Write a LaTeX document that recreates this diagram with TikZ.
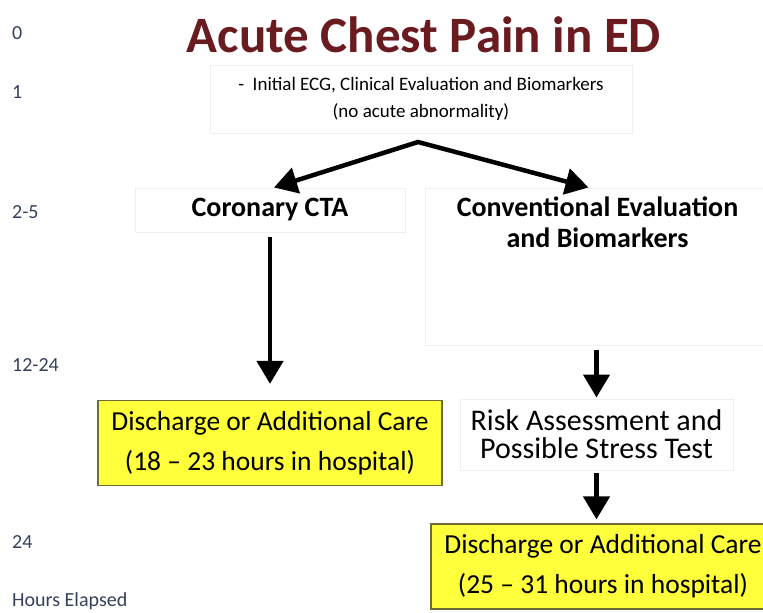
\documentclass[tikz,border=0pt]{standalone}
\usepackage{fontspec}
\setmainfont{Carlito}
\usepackage{xcolor}
\definecolor{TitleMaroon}{HTML}{6A1B1F}
\definecolor{TimeSlate}{HTML}{34405C}
\definecolor{CareYellow}{HTML}{FFFF3C}
\definecolor{CareEdge}{HTML}{6E6B3A}
\definecolor{FaintEdge}{HTML}{EFEFEF}
\usetikzlibrary{arrows.meta,positioning}

\begin{document}
\begin{tikzpicture}[
  x=1pt,y=-1pt,
  stepbox/.style={
    draw=FaintEdge,line width=1pt,
    align=center,inner sep=0pt,text=black
  },
  carebox/.style={
    draw=CareEdge,line width=1.2pt,fill=CareYellow,
    minimum width=344,minimum height=85,
    align=center,inner sep=0pt,
    font=\fontsize{27.5}{40}\selectfont
  },
  hourlbl/.style={anchor=west,inner sep=0pt,text=TimeSlate,font=\fontsize{20}{22}\selectfont},
  arr/.style={-{Triangle[width=26pt,length=23pt]},line width=4.5pt},
  forkarr/.style={{Triangle[width=26pt,length=23pt]}-{Triangle[width=26pt,length=23pt]},line width=4.5pt,line join=miter}
]
  \useasboundingbox (0,0) rectangle (763,613);

  % hours elapsed, down the left side
  \node[hourlbl] (h0)   at (12,33)  {0};
  \node[hourlbl] (h1)   at (12,92)  {1};
  \node[hourlbl] (h25)  at (12,212) {2-5};
  \node[hourlbl] (h1224) at (12,365) {12-24};
  \node[hourlbl] (h24)  at (12,542) {24};
  \node[hourlbl] (hlbl) at (12,601) {Hours Elapsed};

  \node (title) at (424,35) [text=TitleMaroon,font=\bfseries\fontsize{51}{54}\selectfont] {Acute Chest Pain in ED};

  \node[stepbox,minimum width=422,minimum height=68,font=\fontsize{19}{27}\selectfont]
    (init) at (421,99) {-\ \ Initial ECG, Clinical Evaluation and Biomarkers\\(no acute abnormality)};

  \node[stepbox,minimum width=270,minimum height=44,font=\bfseries\fontsize{28}{31}\selectfont]
    (cta) at (270,210) {Coronary CTA};
  \node[stepbox,minimum width=345,minimum height=157]
    (conv) at (597.5,266.5) {};
  \node[align=center,inner sep=0pt,font=\bfseries\fontsize{28}{31}\selectfont]
    (convtxt) [below=9pt of conv.north] {Conventional Evaluation\\and Biomarkers};

  \node[carebox] (cta_out) at (270,443) {Discharge or Additional Care\\(18 -- 23 hours in hospital)};
  \node[stepbox,minimum width=273,minimum height=71,font=\fontsize{30}{28}\selectfont]
    (risk) at (596.5,434.5) {Risk Assessment and\\Possible Stress Test};
  \node[carebox] (conv_out) at (603,566.5) {Discharge or Additional Care\\(25 -- 31 hours in hospital)};

  \coordinate (fork) at (418,142);
  \draw[forkarr] ([xshift=4]cta.north) -- (fork) -- ([xshift=-9]conv.north);
  \draw[arr,shorten <=4pt,shorten >=16pt] (cta) -- (cta_out);
  \draw[arr,shorten <=4pt,shorten >=1pt] (conv.south -| risk) -- (risk);
  \draw[arr,shorten <=2pt,shorten >=4pt] (risk) -- (risk |- conv_out.north);
\end{tikzpicture}
\end{document}
